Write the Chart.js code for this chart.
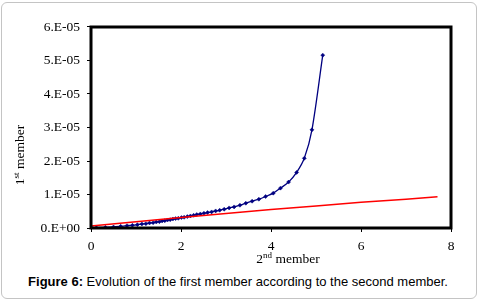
<!DOCTYPE html>
<html>
<head>
<meta charset="utf-8">
<script src="https://cdn.jsdelivr.net/npm/chart.js@4/dist/chart.umd.min.js"></script>
<style>
  body { margin: 0; background: #fff; }
  #frame {
    position: absolute; left: 1px; top: 2px; width: 474px; height: 295px;
    border: 1px solid #c4c4c4; border-radius: 6px;
  }
  #box { position: absolute; left: 0; top: 0; width: 479px; height: 270px; }
  #caption {
    position: absolute; left: 0; top: 274px; width: 476px; text-align: center;
    font-family: "Liberation Sans", Arial, sans-serif; font-size: 13px; color: #000;
  }
</style>
</head>
<body>
<div id="frame"></div>
<div id="box"><canvas id="c"></canvas></div>
<div id="caption"><b>Figure 6:</b> Evolution of the first member according to the second member.</div>
<script>
// blue curve: 2nd member (x) vs 1st member (y, in units of 1e-5)
var secondMember = [0.00, 0.12, 0.32, 0.50, 0.66, 0.80, 0.92, 1.03, 1.13, 1.22, 1.30, 1.38, 1.45, 1.52,
  1.58, 1.64, 1.70, 1.76, 1.82, 1.88, 1.94, 2.01, 2.07, 2.14, 2.21, 2.28, 2.35, 2.43, 2.51, 2.59,
  2.68, 2.77, 2.86, 2.96, 3.07, 3.18, 3.31, 3.44, 3.58, 3.73, 3.88, 4.05, 4.21, 4.39, 4.57, 4.74,
  4.91, 5.15];
var firstMember = [0.00, 0.01, 0.02, 0.03, 0.05, 0.07, 0.08, 0.10, 0.12, 0.13, 0.15, 0.16, 0.18, 0.19,
  0.21, 0.22, 0.24, 0.25, 0.27, 0.28, 0.29, 0.31, 0.32, 0.34, 0.36, 0.38, 0.40, 0.42, 0.44, 0.46,
  0.48, 0.51, 0.53, 0.56, 0.60, 0.63, 0.68, 0.74, 0.80, 0.86, 0.94, 1.04, 1.19, 1.37, 1.66, 2.08,
  2.93, 5.16];

// red line
var lineX = [0, 1, 2, 3, 4, 5, 6, 7, 7.7];
var lineY = [0.06, 0.19, 0.31, 0.43, 0.55, 0.66, 0.77, 0.86, 0.93];

var xTicks = [0, 2, 4, 6, 8];
var yTickLabels = ['0.E+00', '1.E-05', '2.E-05', '3.E-05', '4.E-05', '5.E-05', '6.E-05'];

function toPoints(xs, ys) {
  return xs.map(function (x, i) { return { x: x, y: ys[i] * 1e-5 }; });
}

var serif = '"Liberation Serif", "Times New Roman", serif';

// frame round plot area + axis titles with superscripts
var framePlugin = {
  id: 'frame',
  afterDraw: function (chart) {
    var ctx = chart.ctx, a = chart.chartArea;
    ctx.save();
    ctx.strokeStyle = '#000';
    ctx.lineWidth = 3;
    ctx.strokeRect(a.left, a.top, a.right - a.left, a.bottom - a.top);

    ctx.fillStyle = '#000';
    ctx.textBaseline = 'alphabetic';
    function supText(parts, x, y) {
      var w = 0;
      parts.forEach(function (p) { ctx.font = p[1] + 'px ' + serif; w += ctx.measureText(p[0]).width; });
      var cx = x - w / 2;
      parts.forEach(function (p) {
        ctx.font = p[1] + 'px ' + serif;
        ctx.fillText(p[0], cx, y - p[2]);
        cx += ctx.measureText(p[0]).width;
      });
    }
    supText([['2', 13.5, 0], ['nd', 9, 5], [' member', 13.5, 0]], (a.left + a.right) / 2 + 17, 263);

    ctx.translate(24, 155);
    ctx.rotate(-Math.PI / 2);
    supText([['1', 13.5, 0], ['st', 9, 5], [' member', 13.5, 0]], 0, 0);
    ctx.restore();
  }
};

var ctx = document.getElementById('c');
var chart = new Chart(ctx, {
  type: 'scatter',
  data: {
    datasets: [
      {
        label: 'line',
        data: toPoints(lineX, lineY),
        showLine: true,
        borderColor: '#ff0000',
        borderWidth: 1.5,
        pointRadius: 0
      },
      {
        label: '1st member',
        data: toPoints(secondMember, firstMember),
        showLine: true,
        borderColor: '#000080',
        backgroundColor: '#000080',
        borderWidth: 1.3,
        tension: 0.3,
        pointStyle: 'rectRot',
        pointRadius: 2,
        pointBorderWidth: 0.5
      }
    ]
  },
  options: {
    responsive: true,
    maintainAspectRatio: false,
    animation: false,
    layout: { padding: { left: 0, top: 27, right: 28, bottom: 0 } },
    plugins: { legend: { display: false }, tooltip: { enabled: false } },
    scales: {
      x: {
        type: 'linear', min: 0, max: 8,
        afterBuildTicks: function (s) { s.ticks = xTicks.map(function (v) { return { value: v }; }); },
        afterFit: function (s) { s.height = 42; },
        grid: { display: true, drawOnChartArea: false, tickLength: 4, color: '#000' },
        border: { display: false },
        ticks: { color: '#000', padding: 6, maxRotation: 0, font: { family: serif, size: 13.5 } }
      },
      y: {
        type: 'linear', min: 0, max: 6e-5,
        afterBuildTicks: function (s) { s.ticks = yTickLabels.map(function (t, i) { return { value: i * 1e-5 }; }); },
        afterFit: function (s) { s.width = 91; },
        grid: { display: true, drawOnChartArea: false, tickLength: 4, color: '#000' },
        border: { display: false },
        ticks: {
          color: '#000', padding: 7, font: { family: serif, size: 13.5 },
          callback: function (v, i) { return yTickLabels[i]; }
        }
      }
    }
  },
  plugins: [framePlugin]
});
</script>
</body>
</html>
